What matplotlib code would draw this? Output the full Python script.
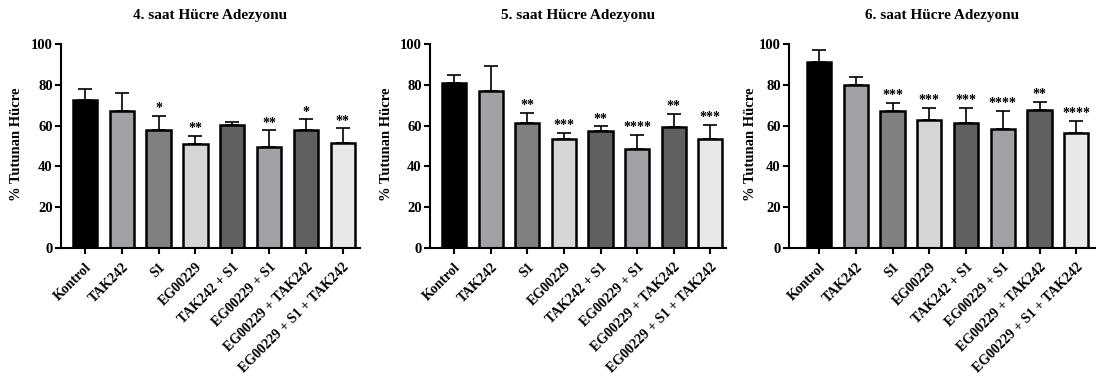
import matplotlib
matplotlib.use("Agg")
import matplotlib.pyplot as plt

plt.rcParams["font.family"] = ["Liberation Serif", "DejaVu Serif"]
plt.rcParams["font.weight"] = "bold"

groups = ["Kontrol", "TAK242", "S1", "EG00229", "TAK242 + S1",
          "EG00229 + S1", "EG00229 + TAK242", "EG00229 + S1 + TAK242"]
bar_colors = ["#000000", "#a2a2a6", "#808080", "#d6d6d6",
              "#606060", "#a2a2a6", "#606060", "#e8e8e8"]

titles = ["4. saat Hücre Adezyonu", "5. saat Hücre Adezyonu", "6. saat Hücre Adezyonu"]

mean_4h = [72.6, 67.2, 57.9, 51.1, 60.4, 49.6, 57.9, 51.5]
sd_4h = [5.5, 8.8, 7.0, 4.0, 1.6, 8.0, 5.2, 7.1]
stars_4h = ["", "", "*", "**", "", "**", "*", "**"]

mean_5h = [80.9, 77.0, 61.2, 53.5, 57.4, 48.3, 59.2, 53.2]
sd_5h = [4.1, 12.1, 5.0, 2.9, 2.3, 7.3, 6.4, 7.2]
stars_5h = ["", "", "**", "***", "**", "****", "**", "***"]

mean_6h = [91.2, 80.1, 67.0, 62.8, 61.5, 58.1, 67.7, 56.6]
sd_6h = [6.0, 3.6, 4.0, 6.0, 7.3, 9.1, 3.9, 5.9]
stars_6h = ["", "", "***", "***", "***", "****", "**", "****"]

y_ticks = [0, 20, 40, 60, 80, 100]

W, H = 1099, 383
fig = plt.figure(figsize=(W / 100, H / 100), dpi=100)

# panel frames in pixels: (left, right, xmin, xmax, ylabel x)
frames = [
    (61, 360, -0.65, 7.47, 17),
    (430, 726, -0.66, 7.43, 387),
    (789, 1095, -0.82, 7.51, 750),
]
top_px, bottom_px = 44, 248

panels = [(mean_4h, sd_4h, stars_4h), (mean_5h, sd_5h, stars_5h), (mean_6h, sd_6h, stars_6h)]

for (means, sds, stars), (l, r, x0, x1, ylx), title in zip(panels, frames, titles):
    ax = fig.add_axes([l / W, (H - bottom_px) / H, (r - l) / W, (bottom_px - top_px) / H])
    x = list(range(len(groups)))
    ax.bar(x, means, width=0.66, color=bar_colors, edgecolor="black",
           linewidth=1.8, zorder=2)
    ax.errorbar(x, means, yerr=[[0] * len(sds), sds], fmt="none", ecolor="black",
                elinewidth=1.2, capsize=5, capthick=1.2, zorder=1)
    for xi, m, s, st in zip(x, means, sds, stars):
        if st:
            ax.annotate(st, (xi, m + s), xytext=(0, 0.5), textcoords="offset points",
                        ha="center", va="bottom", fontsize=10, fontweight="bold")
    ax.set_xlim(x0, x1)
    ax.set_ylim(0, 100)
    ax.set_yticks(y_ticks)
    ax.set_xticks(x)
    ax.set_xticklabels(groups, rotation=45, ha="right", rotation_mode="anchor",
                       fontsize=10, fontweight="bold")
    for lab in ax.get_yticklabels():
        lab.set_fontsize(10.5)
        lab.set_fontweight("bold")
    ax.spines["top"].set_visible(False)
    ax.spines["right"].set_visible(False)
    for sp in ("left", "bottom"):
        ax.spines[sp].set_linewidth(1.5)
    ax.tick_params(axis="both", width=1.5, length=4)
    ax.tick_params(axis="y", pad=2)
    ax.tick_params(axis="x", pad=5)
    ax.patch.set_alpha(0)
    fig.text((l + r) / 2 / W, (H - 15) / H, title, ha="center", va="center",
             fontsize=11, fontweight="bold")
    fig.text(ylx / W, (H - 144) / H, "% Tutunan Hücre", rotation=90,
             ha="center", va="center", fontsize=10.5, fontweight="bold")

fig.savefig("out.png", dpi=100)
